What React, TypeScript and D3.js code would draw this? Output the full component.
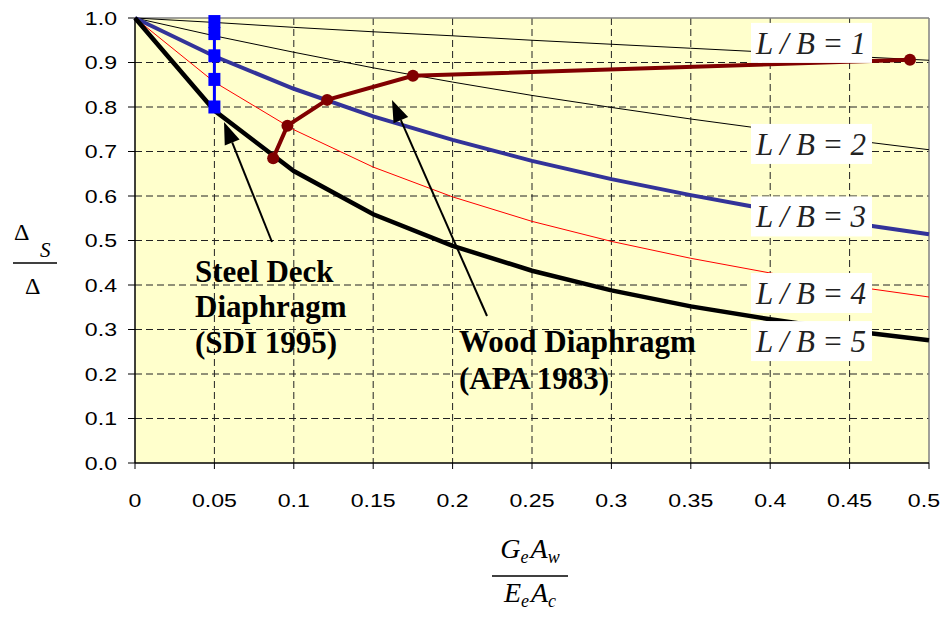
import React from 'react';
import * as d3 from 'd3';

// x values shared by the L/B curves
const xs = [0, 0.05, 0.1, 0.15, 0.2, 0.25, 0.3, 0.35, 0.4, 0.45, 0.5];
const lb1 = [1, 0.99, 0.979, 0.969, 0.96, 0.95, 0.941, 0.932, 0.923, 0.914, 0.905];
const lb2 = [1, 0.96, 0.923, 0.888, 0.856, 0.826, 0.799, 0.773, 0.749, 0.726, 0.704];
const lb3 = [1, 0.914, 0.841, 0.779, 0.726, 0.679, 0.638, 0.602, 0.569, 0.54, 0.514];
const lb4 = [1, 0.856, 0.749, 0.665, 0.598, 0.543, 0.498, 0.46, 0.427, 0.398, 0.373];
const lb5 = [1, 0.792, 0.656, 0.559, 0.488, 0.432, 0.388, 0.352, 0.323, 0.297, 0.276];

// steel deck diaphragm (SDI 1995)
const steelX = [0.05, 0.05, 0.05, 0.05, 0.05];
const steelY = [0.992, 0.965, 0.915, 0.862, 0.8];

// wood diaphragm (APA 1983)
const woodX = [0.087, 0.096, 0.121, 0.175, 0.488];
const woodY = [0.685, 0.758, 0.816, 0.87, 0.906];

const xTicks = [0, 0.05, 0.1, 0.15, 0.2, 0.25, 0.3, 0.35, 0.4, 0.45, 0.5];
const yTicks = [0, 0.1, 0.2, 0.3, 0.4, 0.5, 0.6, 0.7, 0.8, 0.9, 1.0];

const lbLabels = ['L / B = 1', 'L / B = 2', 'L / B = 3', 'L / B = 4', 'L / B = 5'];
const lbLabelY = [0.944, 0.717, 0.554, 0.382, 0.274];

const W = 943, H = 618;
const left = 135, right = 929, top = 18, bottom = 463;

export default function App() {
  const x = d3.scaleLinear().domain([0, 0.5]).range([left, right]);
  const y = d3.scaleLinear().domain([0, 1]).range([bottom, top]);

  const line = d3.line<[number, number]>().x(d => x(d[0])).y(d => y(d[1]));
  const pts = (a: number[], b: number[]) => a.map((v, i) => [v, b[i]] as [number, number]);

  const curves = [
    { d: lb1, color: '#000', w: 1 },
    { d: lb2, color: '#000', w: 1 },
    { d: lb3, color: '#333399', w: 4 },
    { d: lb4, color: '#ff0000', w: 1 },
    { d: lb5, color: '#000', w: 4.5 },
  ];

  const serif = '"Liberation Serif", "Times New Roman", serif';
  const sans = '"Liberation Sans", Arial, sans-serif';

  const arrow = (x1: number, y1: number, x2: number, y2: number, key: string) => {
    const ang = Math.atan2(y2 - y1, x2 - x1);
    const len = 22, half = 8;
    const bx = x2 - len * Math.cos(ang), by = y2 - len * Math.sin(ang);
    const px = -Math.sin(ang) * half, py = Math.cos(ang) * half;
    return (
      <g key={key}>
        <line x1={x1} y1={y1} x2={bx} y2={by} stroke="#000" strokeWidth={2} />
        <polygon points={`${x2},${y2} ${bx + px},${by + py} ${bx - px},${by - py}`} fill="#000" />
      </g>
    );
  };

  return (
    <svg width={W} height={H} style={{ position: 'absolute', left: 0, top: 0 }}>
      <rect x={0} y={0} width={W} height={H} fill="#fff" />
      <rect x={left} y={top} width={right - left} height={bottom - top} fill="#ffffcc" />

      {/* grid */}
      {xTicks.slice(1, -1).map(t => (
        <line key={'gx' + t} x1={x(t)} x2={x(t)} y1={top} y2={bottom} stroke="#222" strokeDasharray="7,4" />
      ))}
      {yTicks.slice(1, -1).map(t => (
        <line key={'gy' + t} x1={left} x2={right} y1={y(t)} y2={y(t)} stroke="#222" strokeDasharray="7,4" />
      ))}

      {/* plot border */}
      <line x1={left} x2={right} y1={top} y2={top} stroke="#808080" strokeWidth={1.5} />
      <line x1={right} x2={right} y1={top} y2={bottom} stroke="#808080" strokeWidth={1.5} />
      <line x1={left} x2={left} y1={top} y2={bottom} stroke="#000" strokeWidth={1.5} />
      <line x1={left} x2={right} y1={bottom} y2={bottom} stroke="#000" strokeWidth={1.5} />

      {/* ticks */}
      {yTicks.map(t => (
        <g key={'ty' + t}>
          <line x1={left - 7} x2={left} y1={y(t)} y2={y(t)} stroke="#000" />
          <text transform={`translate(117,${y(t) + 6.5}) scale(1.25,1)`} textAnchor="end" fontFamily={sans} fontSize={18.5}>{t.toFixed(1)}</text>
        </g>
      ))}
      {xTicks.map((t, i) => {
        const last = i === xTicks.length - 1;
        return (
          <g key={'tx' + t}>
            <line x1={x(t)} x2={x(t)} y1={bottom} y2={bottom + 6} stroke="#000" />
            <text transform={`translate(${last ? 940 : x(t)},507) scale(1.25,1)`} textAnchor={last ? 'end' : 'middle'}
              fontFamily={sans} fontSize={18.5}>{String(t)}</text>
          </g>
        );
      })}

      {/* L/B curves */}
      {curves.map((c, i) => (
        <path key={'c' + i} d={line(pts(xs, c.d)) || ''} fill="none" stroke={c.color} strokeWidth={c.w} />
      ))}

      {/* steel deck */}
      <path d={line(pts(steelX, steelY)) || ''} fill="none" stroke="#0000ff" strokeWidth={3} />
      {steelX.map((v, i) => (
        <rect key={'s' + i} x={x(v) - 6} y={y(steelY[i]) - 6.5} width={12} height={13} fill="#0000ff" />
      ))}

      {/* wood */}
      <path d={line(pts(woodX, woodY)) || ''} fill="none" stroke="#800000" strokeWidth={4} />
      {woodX.map((v, i) => (
        <circle key={'w' + i} cx={x(v)} cy={y(woodY[i])} r={6} fill="#800000" />
      ))}

      {/* arrows */}
      {arrow(272, 242, 224, 122, 'a1')}
      {arrow(487, 316, 392, 100, 'a2')}

      {/* annotations */}
      <g fontFamily={serif} fontWeight="bold" fontSize={31} fill="#000">
        <text x={195} y={282}>Steel Deck</text>
        <text x={195} y={317}>Diaphragm</text>
        <text x={195} y={353}>(SDI 1995)</text>
        <text x={459} y={352}>Wood Diaphragm</text>
        <text x={459} y={389}>(APA 1983)</text>
      </g>

      {/* L/B labels */}
      {lbLabels.map((s, i) => (
        <g key={'lb' + i}>
          <rect x={751} y={y(lbLabelY[i]) - 20} width={121} height={40} fill="#fff" />
          <text x={756} y={y(lbLabelY[i]) + 11} fontFamily={serif} fontStyle="italic" fontSize={31}
            textLength={110} lengthAdjust="spacing" fill="#222">{s}</text>
        </g>
      ))}

      {/* y axis label */}
      <g fontFamily={serif} fill="#000">
        <text x={14} y={240} fontSize={24}>Δ</text>
        <text x={40} y={257} fontSize={21} fontStyle="italic">S</text>
        <line x1={13} x2={57} y1={263} y2={263} stroke="#000" strokeWidth={1.5} />
        <text x={25} y={294} fontSize={24}>Δ</text>
      </g>

      {/* x axis label */}
      <g fontFamily={serif} fontStyle="italic" fill="#000">
        <text x={530} y={558} textAnchor="middle" fontSize={28}>
          G<tspan fontSize={18} dy={5}>e</tspan><tspan dx={2} dy={-5}>A</tspan><tspan fontSize={18} dy={5}>w</tspan>
        </text>
        <line x1={492} x2={568} y1={576} y2={576} stroke="#000" strokeWidth={1.5} />
        <text x={530} y={602} textAnchor="middle" fontSize={28}>
          E<tspan fontSize={18} dy={5}>e</tspan><tspan dx={2} dy={-5}>A</tspan><tspan fontSize={18} dy={5}>c</tspan>
        </text>
      </g>
    </svg>
  );
}
